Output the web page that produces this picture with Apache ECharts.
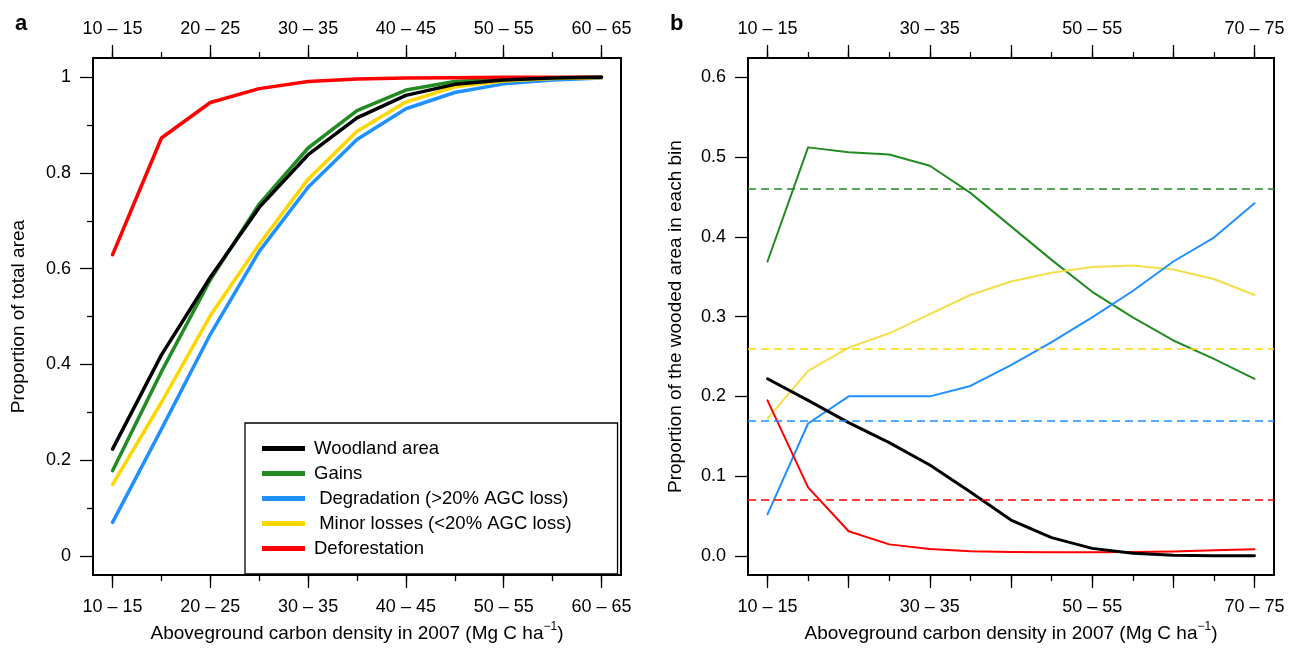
<!DOCTYPE html>
<html>
<head>
<meta charset="utf-8">
<script src="https://cdn.jsdelivr.net/npm/echarts@6.0.0/dist/echarts.min.js"></script>
<style>
  html, body { margin: 0; padding: 0; background: #fff; }
  #main { width: 1289px; height: 652px; }
</style>
</head>
<body>
<div id="main"></div>
<script>
// carbon density bins (Mg C / ha)
var binsA = ["10 – 15", "15 – 20", "20 – 25", "25 – 30", "30 – 35", "35 – 40",
             "40 – 45", "45 – 50", "50 – 55", "55 – 60", "60 – 65"];
var binsB = ["10 – 15", "15 – 20", "20 – 25", "25 – 30", "30 – 35", "35 – 40",
             "40 – 45", "45 – 50", "50 – 55", "55 – 60", "60 – 65", "65 – 70", "70 – 75"];

// which bins get a label / long tick
var labelIdxA = [0, 2, 4, 6, 8, 10];
var tickIdxA = [0, 1, 2, 3, 4, 5, 6, 7, 8, 9, 10];
var labelIdxB = [0, 4, 8, 12];
var longTickIdxB = [0, 2, 4, 6, 8, 10, 12];
var tickIdxB = [0, 1, 2, 3, 4, 5, 6, 7, 8, 9, 10, 11, 12];

var yLabelsA = [0, 0.2, 0.4, 0.6, 0.8, 1];
var yMinorA = [0.1, 0.3, 0.5, 0.7, 0.9];
var yLabelsB = [0, 0.1, 0.2, 0.3, 0.4, 0.5, 0.6];

// panel a - cumulative proportion of total area
var woodA  = [0.223, 0.420, 0.582, 0.728, 0.838, 0.915, 0.962, 0.985, 0.994, 0.998, 1.000];
var gainsA = [0.178, 0.385, 0.577, 0.735, 0.852, 0.930, 0.973, 0.991, 0.996, 0.999, 1.000];
var degrA  = [0.070, 0.265, 0.463, 0.636, 0.770, 0.870, 0.934, 0.968, 0.986, 0.994, 0.998];
var minorA = [0.149, 0.321, 0.502, 0.651, 0.787, 0.887, 0.948, 0.980, 0.992, 0.997, 0.999];
var deforA = [0.629, 0.873, 0.947, 0.976, 0.991, 0.996, 0.998, 0.999, 1.000, 1.000, 1.000];

// panel b - proportion of the wooded area in each bin
var woodB  = [0.222, 0.195, 0.167, 0.142, 0.114, 0.080, 0.045, 0.023, 0.0095, 0.0033, 0.001, 0.0003, 0.0002];
var gainsB = [0.369, 0.512, 0.506, 0.503, 0.489, 0.455, 0.413, 0.371, 0.331, 0.299, 0.270, 0.247, 0.222];
var degrB  = [0.052, 0.166, 0.200, 0.200, 0.200, 0.213, 0.239, 0.268, 0.299, 0.332, 0.369, 0.399, 0.442];
var minorB = [0.172, 0.232, 0.261, 0.279, 0.303, 0.327, 0.344, 0.355, 0.362, 0.364, 0.359, 0.347, 0.327];
var deforB = [0.195, 0.086, 0.031, 0.0145, 0.0087, 0.006, 0.005, 0.0045, 0.0045, 0.005, 0.0055, 0.007, 0.0085];

// overall means (dashed lines)
var meanGainsB = 0.46;
var meanMinorB = 0.256;
var meanDegrB = 0.167;
var meanDeforB = 0.069;

var font = "Liberation Sans, Arial, Helvetica, sans-serif";
var cBlack = "#000000", cGreen = "#228B22", cBlue = "#1E90FF", cYellow = "#FFD700", cRed = "#FF0000";

function pts(arr) {
  return arr.map(function (v, i) { return [i, v]; });
}

// x axis with R style 4% padding, ticks/labels at given bins
function xAx(gi, pos, cats, tickVals, tickLen, labelVals, name) {
  var n = cats.length - 1;
  var ax = {
    type: "value", gridIndex: gi, position: pos,
    min: -0.04 * n, max: n + 0.04 * n,
    axisLine: { show: false, onZero: false },
    splitLine: { show: false },
    axisTick: { show: true, inside: false, customValues: tickVals, length: tickLen,
                lineStyle: { color: "#000", width: 1.3 } },
    axisLabel: { show: false }
  };
  if (labelVals) {
    ax.axisLabel = {
      show: true, customValues: labelVals, margin: pos === "top" ? 20 : 23,
      color: "#000", fontSize: 18, fontFamily: font,
      formatter: function (v) { return cats[Math.round(v)]; }
    };
  }
  if (name) {
    ax.name = name;
    ax.nameLocation = "middle";
    ax.nameGap = 40;
    ax.nameTextStyle = {
      color: "#000", fontSize: 19, fontFamily: font, lineHeight: 26,
      rich: { sup: { fontSize: 12, lineHeight: 12, verticalAlign: "top", fontFamily: font, color: "#000" } }
    };
  }
  return ax;
}

function yAx(gi, max, tickVals, tickLen, labelVals, digits, name, gap) {
  var ax = {
    type: "value", gridIndex: gi, position: "left",
    min: -0.04 * max, max: max * 1.04,
    axisLine: { show: false, onZero: false },
    splitLine: { show: false },
    axisTick: { show: true, inside: false, customValues: tickVals, length: tickLen,
                lineStyle: { color: "#000", width: 1.3 } },
    axisLabel: { show: false }
  };
  if (labelVals) {
    ax.axisLabel = {
      show: true, customValues: labelVals, margin: 22,
      color: "#000", fontSize: 18, fontFamily: font,
      formatter: function (v) {
        if (digits === 0) return String(Math.round(v * 10) / 10);
        return v.toFixed(digits);
      }
    };
    ax.name = name;
    ax.nameLocation = "middle";
    ax.nameGap = gap;
    ax.nameTextStyle = { color: "#000", fontSize: 19, fontFamily: font };
  }
  return ax;
}

function lineA(name, data, color, width, z) {
  return {
    name: name, type: "line", xAxisIndex: 0, yAxisIndex: 0,
    data: pts(data), showSymbol: false, symbol: "none", silent: true, animation: false,
    itemStyle: { color: color },
    lineStyle: { color: color, width: width, cap: "round", join: "round" },
    z: z
  };
}

function lineB(name, data, color, dashColor, width, mean, z) {
  var s = {
    name: name, type: "line", xAxisIndex: 4, yAxisIndex: 2,
    data: pts(data), showSymbol: false, symbol: "none", silent: true, animation: false,
    itemStyle: { color: color },
    lineStyle: { color: color, width: width, cap: "round", join: "round" },
    z: z
  };
  if (mean != null) {
    s.markLine = {
      silent: true, symbol: ["none", "none"], animation: false,
      label: { show: false },
      lineStyle: { color: dashColor, type: [8, 5], width: 1.6 },
      data: [{ yAxis: mean }]
    };
  }
  return s;
}

var xTitle = "Aboveground carbon density in 2007 (Mg C ha{sup|−1})";

var option = {
  backgroundColor: "#fff",
  animation: false,
  title: [
    { text: "a", left: 10, top: 8, textStyle: { fontSize: 22, fontWeight: "bold", color: "#000", fontFamily: font } },
    { text: "b", left: 665, top: 8, textStyle: { fontSize: 22, fontWeight: "bold", color: "#000", fontFamily: font } }
  ],
  grid: [
    { left: 93, right: 668, top: 58, bottom: 72, show: true, borderColor: "#000", borderWidth: 2, backgroundColor: "transparent" },
    { left: 748, right: 15, top: 58, bottom: 72, show: true, borderColor: "#000", borderWidth: 2, backgroundColor: "transparent" }
  ],
  legend: {
    orient: "vertical", left: 245, top: 423,
    data: ["Woodland area", "Gains", "Degradation (>20% AGC loss)", "Minor losses (<20% AGC loss)", "Deforestation"],
    formatter: function (n) { return (n.indexOf("AGC") >= 0 ? " " : "") + n; },
    icon: "rect", itemWidth: 43, itemHeight: 5, itemGap: 6,
    borderColor: "#000", borderWidth: 1.3, padding: [16, 46, 16, 17],
    textStyle: { color: "#000", fontSize: 18.5, fontFamily: font, lineHeight: 18, padding: [0, 0, 0, 4] },
    selectedMode: false
  },
  xAxis: [
    xAx(0, "bottom", binsA, labelIdxA, 13, labelIdxA, xTitle),
    xAx(0, "bottom", binsA, tickIdxA, 6, null, null),
    xAx(0, "top", binsA, labelIdxA, 13, labelIdxA, null),
    xAx(0, "top", binsA, tickIdxA, 6, null, null),
    xAx(1, "bottom", binsB, longTickIdxB, 13, labelIdxB, xTitle),
    xAx(1, "bottom", binsB, tickIdxB, 6, null, null),
    xAx(1, "top", binsB, longTickIdxB, 13, labelIdxB, null),
    xAx(1, "top", binsB, tickIdxB, 6, null, null)
  ],
  yAxis: [
    yAx(0, 1, yLabelsA, 13, yLabelsA, 0, "Proportion of total area", 65),
    yAx(0, 1, yMinorA, 6, null),
    yAx(1, 0.6, yLabelsB, 13, yLabelsB, 1, "Proportion of the wooded area in each bin", 63)
  ],
  series: [
    lineA("Gains", gainsA, cGreen, 3.5, 2),
    lineA("Degradation (>20% AGC loss)", degrA, cBlue, 3.5, 2),
    lineA("Minor losses (<20% AGC loss)", minorA, cYellow, 3.5, 2),
    lineA("Deforestation", deforA, cRed, 3.5, 2),
    lineA("Woodland area", woodA, cBlack, 3.5, 3),
    lineB("b gains", gainsB, cGreen, cGreen, 2, meanGainsB, 2),
    lineB("b minor", minorB, "#F6DE4A", cYellow, 2, meanMinorB, 2),
    lineB("b degradation", degrB, cBlue, cBlue, 2, meanDegrB, 2),
    lineB("b deforestation", deforB, cRed, cRed, 2, meanDeforB, 2),
    lineB("b woodland", woodB, cBlack, cBlack, 3, null, 3)
  ]
};

var chart = echarts.init(document.getElementById("main"));
chart.setOption(option);
</script>
</body>
</html>
